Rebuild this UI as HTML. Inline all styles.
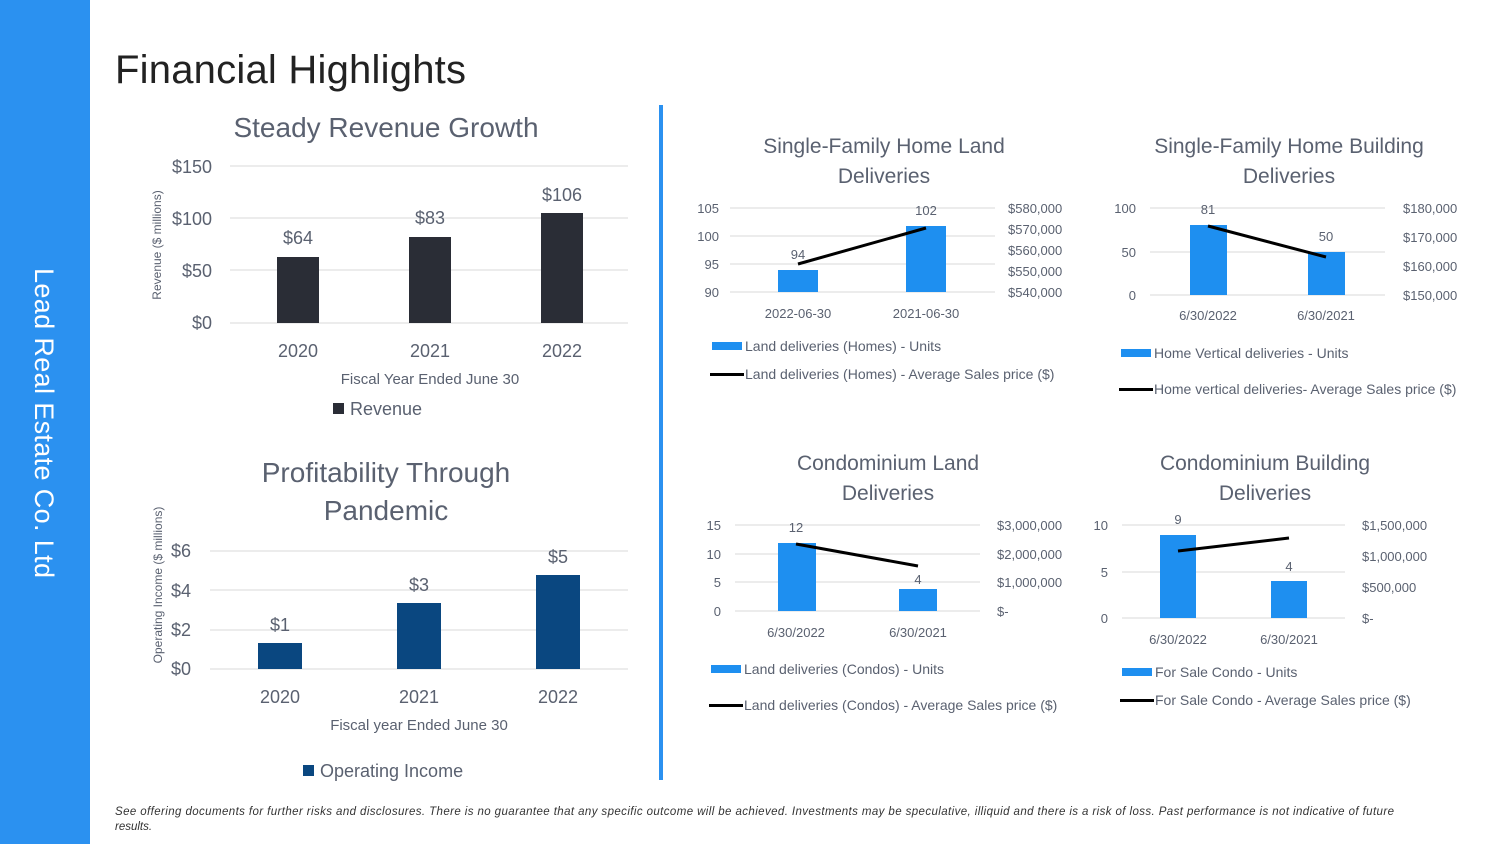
<!DOCTYPE html>
<html><head><meta charset="utf-8"><style>
html,body{margin:0;padding:0;background:#fff}
svg{display:block;font-family:"Liberation Sans","DejaVu Sans",sans-serif}
</style></head><body>
<svg width="1500" height="844" viewBox="0 0 1500 844" xmlns="http://www.w3.org/2000/svg">
<rect x="0" y="0" width="90" height="844" fill="#2b91f0"/>
<text transform="translate(35,268) rotate(90)" font-size="27" fill="#fff" textLength="310">Lead Real Estate Co. Ltd</text>
<text x="115" y="83" font-size="40" fill="#222" textLength="351">Financial Highlights</text>
<rect x="659" y="105" width="4" height="675" fill="#2b91f0"/>

<g fill="#5a6170">
<text x="386" y="137" font-size="28" text-anchor="middle">Steady Revenue Growth</text>
<g stroke="#d9d9d9" stroke-width="1"><line x1="230" y1="166" x2="628" y2="166"/><line x1="230" y1="218" x2="628" y2="218"/><line x1="230" y1="270" x2="628" y2="270"/><line x1="230" y1="323" x2="628" y2="323"/></g>
<g font-size="18" text-anchor="end"><text x="212" y="173">$150</text><text x="212" y="225">$100</text><text x="212" y="277">$50</text><text x="212" y="329">$0</text></g>
<text transform="translate(161,245) rotate(-90)" font-size="12" text-anchor="middle">Revenue ($ millions)</text>
<g fill="#2a2d36"><rect x="277" y="257" width="42" height="66"/><rect x="409" y="237" width="42" height="86"/><rect x="541" y="213" width="42" height="110"/></g>
<g font-size="18" text-anchor="middle"><text x="298" y="244">$64</text><text x="430" y="224">$83</text><text x="562" y="201">$106</text>
<text x="298" y="357">2020</text><text x="430" y="357">2021</text><text x="562" y="357">2022</text></g>
<text x="430" y="384" font-size="15" text-anchor="middle">Fiscal Year Ended June 30</text>
<rect x="333" y="403" width="11" height="11" fill="#2a2d36"/><text x="350" y="415" font-size="18">Revenue</text>

<text x="386" y="482" font-size="28" text-anchor="middle">Profitability Through</text>
<text x="386" y="520" font-size="28" text-anchor="middle">Pandemic</text>
<g stroke="#d9d9d9"><line x1="210" y1="551" x2="628" y2="551"/><line x1="210" y1="590" x2="628" y2="590"/><line x1="210" y1="630" x2="628" y2="630"/><line x1="210" y1="669" x2="628" y2="669"/></g>
<g font-size="18" text-anchor="end"><text x="191" y="557">$6</text><text x="191" y="597">$4</text><text x="191" y="636">$2</text><text x="191" y="675">$0</text></g>
<text transform="translate(162,585) rotate(-90)" font-size="12" text-anchor="middle">Operating Income ($ millions)</text>
<g fill="#0a4780"><rect x="258" y="643" width="44" height="26"/><rect x="397" y="603" width="44" height="66"/><rect x="536" y="575" width="44" height="94"/></g>
<g font-size="18" text-anchor="middle"><text x="280" y="631">$1</text><text x="419" y="591">$3</text><text x="558" y="563">$5</text>
<text x="280" y="703">2020</text><text x="419" y="703">2021</text><text x="558" y="703">2022</text></g>
<text x="419" y="730" font-size="15" text-anchor="middle">Fiscal year Ended June 30</text>
<rect x="303" y="765" width="11" height="11" fill="#0a4780"/><text x="320" y="777" font-size="18">Operating Income</text>

<text x="884" y="153" font-size="21" text-anchor="middle">Single-Family Home Land</text>
<text x="884" y="183" font-size="21" text-anchor="middle">Deliveries</text>
<g stroke="#d9d9d9"><line x1="730" y1="208" x2="995" y2="208"/><line x1="730" y1="236" x2="995" y2="236"/><line x1="730" y1="264" x2="995" y2="264"/><line x1="730" y1="292" x2="995" y2="292"/></g>
<g font-size="13" text-anchor="end"><text x="719" y="213">105</text><text x="719" y="241">100</text><text x="719" y="269">95</text><text x="719" y="297">90</text></g>
<g font-size="13"><text x="1008" y="213">$580,000</text><text x="1008" y="234">$570,000</text><text x="1008" y="255">$560,000</text><text x="1008" y="276">$550,000</text><text x="1008" y="297">$540,000</text></g>
<g fill="#1e8ff0"><rect x="778" y="270" width="40" height="22"/><rect x="906" y="226" width="40" height="66"/></g>
<line x1="798" y1="264" x2="926" y2="228" stroke="#000" stroke-width="3"/>
<g font-size="13" text-anchor="middle"><text x="798" y="259">94</text><text x="926" y="215">102</text><text x="798" y="318">2022-06-30</text><text x="926" y="318">2021-06-30</text></g>
<rect x="712" y="342" width="30" height="8" fill="#1e8ff0"/><text x="745" y="351" font-size="14">Land deliveries (Homes) - Units</text>
<rect x="710" y="373" width="34" height="3" fill="#000"/><text x="745" y="379" font-size="14">Land deliveries (Homes) - Average Sales price ($)</text>

<text x="1289" y="153" font-size="21" text-anchor="middle">Single-Family Home Building</text>
<text x="1289" y="183" font-size="21" text-anchor="middle">Deliveries</text>
<g stroke="#d9d9d9"><line x1="1150" y1="208" x2="1385" y2="208"/><line x1="1150" y1="252" x2="1385" y2="252"/><line x1="1150" y1="295" x2="1385" y2="295"/></g>
<g font-size="13" text-anchor="end"><text x="1136" y="213">100</text><text x="1136" y="257">50</text><text x="1136" y="300">0</text></g>
<g font-size="13"><text x="1403" y="213">$180,000</text><text x="1403" y="242">$170,000</text><text x="1403" y="271">$160,000</text><text x="1403" y="300">$150,000</text></g>
<g fill="#1e8ff0"><rect x="1190" y="225" width="37" height="70"/><rect x="1308" y="252" width="37" height="43"/></g>
<line x1="1208" y1="226" x2="1326" y2="257" stroke="#000" stroke-width="3"/>
<g font-size="13" text-anchor="middle"><text x="1208" y="214">81</text><text x="1326" y="241">50</text><text x="1208" y="320">6/30/2022</text><text x="1326" y="320">6/30/2021</text></g>
<rect x="1121" y="349" width="30" height="8" fill="#1e8ff0"/><text x="1154" y="358" font-size="14">Home Vertical deliveries - Units</text>
<rect x="1119" y="388" width="34" height="3" fill="#000"/><text x="1154" y="394" font-size="14">Home vertical deliveries- Average Sales price ($)</text>

<text x="888" y="470" font-size="21" text-anchor="middle">Condominium Land</text>
<text x="888" y="500" font-size="21" text-anchor="middle">Deliveries</text>
<g stroke="#d9d9d9"><line x1="735" y1="525" x2="980" y2="525"/><line x1="735" y1="554" x2="980" y2="554"/><line x1="735" y1="582" x2="980" y2="582"/><line x1="735" y1="611" x2="980" y2="611"/></g>
<g font-size="13" text-anchor="end"><text x="721" y="530">15</text><text x="721" y="559">10</text><text x="721" y="587">5</text><text x="721" y="616">0</text></g>
<g font-size="13"><text x="997" y="530">$3,000,000</text><text x="997" y="559">$2,000,000</text><text x="997" y="587">$1,000,000</text><text x="997" y="616">$-</text></g>
<g fill="#1e8ff0"><rect x="778" y="543" width="38" height="68"/><rect x="899" y="589" width="38" height="22"/></g>
<line x1="796" y1="544" x2="918" y2="566" stroke="#000" stroke-width="3"/>
<g font-size="13" text-anchor="middle"><text x="796" y="532">12</text><text x="918" y="584">4</text><text x="796" y="637">6/30/2022</text><text x="918" y="637">6/30/2021</text></g>
<rect x="711" y="665" width="30" height="8" fill="#1e8ff0"/><text x="744" y="674" font-size="14">Land deliveries (Condos) - Units</text>
<rect x="709" y="704" width="34" height="3" fill="#000"/><text x="744" y="710" font-size="14">Land deliveries (Condos) - Average Sales price ($)</text>

<text x="1265" y="470" font-size="21" text-anchor="middle">Condominium Building</text>
<text x="1265" y="500" font-size="21" text-anchor="middle">Deliveries</text>
<g stroke="#d9d9d9"><line x1="1122" y1="525" x2="1345" y2="525"/><line x1="1122" y1="572" x2="1345" y2="572"/><line x1="1122" y1="618" x2="1345" y2="618"/></g>
<g font-size="13" text-anchor="end"><text x="1108" y="530">10</text><text x="1108" y="577">5</text><text x="1108" y="623">0</text></g>
<g font-size="13"><text x="1362" y="530">$1,500,000</text><text x="1362" y="561">$1,000,000</text><text x="1362" y="592">$500,000</text><text x="1362" y="623">$-</text></g>
<g fill="#1e8ff0"><rect x="1160" y="535" width="36" height="83"/><rect x="1271" y="581" width="36" height="37"/></g>
<line x1="1178" y1="551" x2="1289" y2="538" stroke="#000" stroke-width="3"/>
<g font-size="13" text-anchor="middle"><text x="1178" y="524">9</text><text x="1289" y="571">4</text><text x="1178" y="644">6/30/2022</text><text x="1289" y="644">6/30/2021</text></g>
<rect x="1122" y="668" width="30" height="8" fill="#1e8ff0"/><text x="1155" y="677" font-size="14">For Sale Condo - Units</text>
<rect x="1120" y="699" width="34" height="3" fill="#000"/><text x="1155" y="705" font-size="14">For Sale Condo - Average Sales price ($)</text>
</g>

<g font-size="11.5" font-style="italic" fill="#333">
<text x="115" y="815" textLength="1279" lengthAdjust="spacing">See offering documents for further risks and disclosures. There is no guarantee that any specific outcome will be achieved.  Investments may be speculative, illiquid and there is a  risk of loss. Past performance is not indicative of future</text>
<text x="115" y="830">results.</text>
</g>
</svg>
</body></html>
